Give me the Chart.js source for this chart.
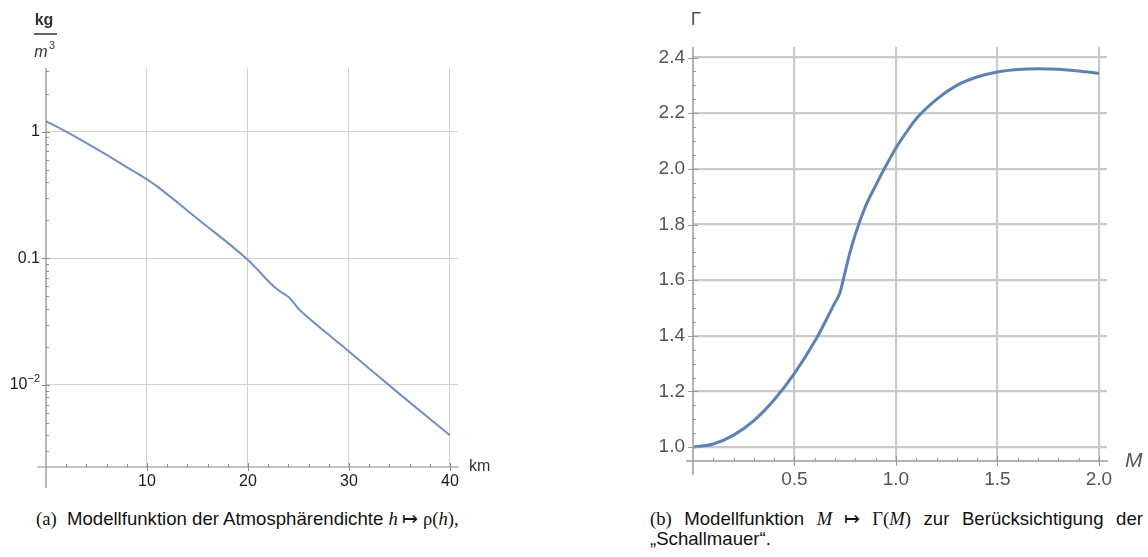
<!DOCTYPE html>
<html lang="de">
  <head>
    <meta charset="UTF-8" />
    <title>Atmosphärendichte und Schallmauer</title>
    <script src="https://cdn.jsdelivr.net/npm/chart.js@4"></script>
    <style>
      body {
        margin: 0;
        background: #fff;
        width: 1148px;
        height: 557px;
        position: relative;
        overflow: hidden;
        font-family: "Liberation Sans", Arial, sans-serif;
      }
      canvas {
        position: absolute;
        top: 0;
      }
      #densityChart { left: 0; }
      #gammaChart { left: 574px; }
      .caption {
        position: absolute;
        font-size: 18.6px;
        line-height: 20px;
        color: #111;
      }
      .serif { font-family: "Liberation Serif", "Times New Roman", serif; font-size: 18.6px; }
      .it { font-style: italic; }
      #capA { left: 36px; top: 509px; white-space: nowrap; }
      #capB { left: 650px; top: 509px; width: 493px; text-align: justify; text-align-last: left; }
    </style>
  </head>
  <body>
    <canvas id="densityChart" width="574" height="500"></canvas>
    <canvas id="gammaChart" width="574" height="500"></canvas>

    <div class="caption" id="capA">
      <span class="serif">(a)</span>&nbsp; Modellfunktion der Atmosphärendichte
      <span class="serif it">h</span><span class="serif"> ↦ ρ(</span><span class="serif it">h</span><span class="serif">),</span>
    </div>
    <div class="caption" id="capB">
      <span class="serif">(b)</span> Modellfunktion <span class="serif it">M</span><span class="serif"> ↦ Γ(</span><span class="serif it">M</span><span class="serif">)</span> zur Berücksichtigung der „Schallmauer“.
    </div>

    <script>
      // (a) air density over altitude
      const altitudeKm = [0, 2, 5, 8, 10, 11, 15, 20, 22.6, 23.3, 24.1, 25.0, 25.5, 30, 35, 40];
      const densityKgM3 = [1.21, 1.0, 0.73, 0.525, 0.42, 0.37, 0.205, 0.097, 0.0596, 0.054, 0.0488, 0.040, 0.0367, 0.0184, 0.0085, 0.0040];
      const altitudeTicks = [10, 20, 30, 40];
      const densityTicks = [1, 0.1, 0.01];
      const densityTickLabels = [["1"], ["0.1"], ["10", "−2"]];

      // (b) gamma over mach number, kink at the sonic transition
      const machNumber = [0, 0.1, 0.2, 0.3, 0.4, 0.5, 0.6, 0.7, 0.724, 0.74, 0.77, 0.8, 0.85, 0.9, 0.95, 1.0, 1.05, 1.1, 1.2, 1.3, 1.4, 1.5, 1.6, 1.7, 1.8, 1.9, 2.0];
      const gammaValues = [1.0, 1.011, 1.043, 1.095, 1.17, 1.265, 1.38, 1.52, 1.555, 1.6, 1.69, 1.765, 1.865, 1.94, 2.01, 2.075, 2.13, 2.18, 2.25, 2.3, 2.33, 2.348, 2.357, 2.36, 2.358, 2.352, 2.343];
      const machTicks = [0.5, 1.0, 1.5, 2.0];
      const gammaTicks = [1.0, 1.2, 1.4, 1.6, 1.8, 2.0, 2.2, 2.4];

      const toPoints = (xs, ys) => xs.map((x, i) => ({ x: x, y: ys[i] }));
      const fixedTicks = (values) => (scale) => {
        scale.ticks = values.map((v) => ({ value: v }));
      };

      // Mathematica-style axes: lines, major/minor ticks, labels and titles
      const axesPlugin = {
        id: "axes",
        afterDatasetsDraw(chart, args, o) {
          const ctx = chart.ctx;
          const xs = chart.scales.x;
          const ys = chart.scales.y;
          const ax = xs.left;
          const ay = ys.bottom;
          ctx.save();
          ctx.strokeStyle = o.axisColor;
          ctx.lineWidth = o.axisWidth;
          ctx.beginPath();
          ctx.moveTo(ax - o.xAxisOverhang, ay);
          ctx.lineTo(xs.right + 1, ay);
          ctx.moveTo(ax, ys.top);
          ctx.lineTo(ax, ay + o.yAxisOverhang);
          ctx.stroke();

          ctx.lineWidth = 1;
          ctx.beginPath();
          o.xMinor.forEach((v) => {
            const px = Math.round(xs.getPixelForValue(v)) + 0.5;
            ctx.moveTo(px, ay);
            ctx.lineTo(px, ay - o.minorLen);
          });
          o.xMajor.forEach((v) => {
            const px = Math.round(xs.getPixelForValue(v)) + 0.5;
            ctx.moveTo(px, ay + o.majorLen);
            ctx.lineTo(px, ay - o.majorLen);
          });
          o.yMinor.forEach((v) => {
            const py = Math.round(ys.getPixelForValue(v)) + 0.5;
            ctx.moveTo(ax, py);
            ctx.lineTo(ax + o.minorLen, py);
          });
          o.yMajor.forEach((v) => {
            const py = Math.round(ys.getPixelForValue(v)) + 0.5;
            ctx.moveTo(ax - o.majorLen, py);
            ctx.lineTo(ax + o.majorLen, py);
          });
          ctx.stroke();

          ctx.fillStyle = o.labelColor;
          ctx.font = o.labelFont;
          ctx.textAlign = "center";
          ctx.textBaseline = "middle";
          o.xMajor.forEach((v, i) => {
            ctx.fillText(o.xLabels[i], xs.getPixelForValue(v), ay + o.xLabelGap);
          });
          ctx.textAlign = "right";
          o.yMajor.forEach((v, i) => {
            const py = ys.getPixelForValue(v);
            const parts = o.yLabels[i];
            const rx = ax - o.yLabelGap;
            if (parts.length === 1) {
              ctx.fillText(parts[0], rx, py);
            } else {
              ctx.font = o.supFont;
              const supW = ctx.measureText(parts[1]).width;
              ctx.fillText(parts[1], rx, py - 6);
              ctx.font = o.labelFont;
              ctx.fillText(parts[0], rx - supW, py);
            }
          });
          if (o.drawTitles) o.drawTitles(ctx, xs, ys);
          ctx.restore();
        },
      };

      function minorRange(from, to, step, skip) {
        const out = [];
        for (let i = 0; from + i * step <= to + 1e-9; i++) {
          const v = +(from + i * step).toFixed(4);
          if (!skip.some((s) => Math.abs(s - v) < 1e-6)) out.push(v);
        }
        return out;
      }

      const logMinor = [];
      [0.001, 0.01, 0.1, 1].forEach((d) => {
        for (let k = 2; k <= 9; k++) {
          const v = d * k;
          if (v > 0.00225 && v < 3.18) logMinor.push(v);
        }
      });

      new Chart(document.getElementById("densityChart"), {
        type: "line",
        data: {
          datasets: [
            {
              data: toPoints(altitudeKm, densityKgM3),
              borderColor: "#6f90c6",
              borderWidth: 2,
              pointRadius: 0,
              cubicInterpolationMode: "monotone",
            },
          ],
        },
        options: {
          responsive: false,
          animation: false,
          devicePixelRatio: 1,
          layout: { padding: { left: 46, top: 68, right: 116, bottom: 33 } },
          plugins: {
            legend: { display: false },
            tooltip: { enabled: false },
            axes: {
              axisColor: "#8a8a8a",
              axisWidth: 1.2,
              xAxisOverhang: 9,
              yAxisOverhang: 21,
              minorLen: 3,
              majorLen: 4,
              xMajor: altitudeTicks,
              xMinor: minorRange(2, 40, 2, altitudeTicks),
              yMajor: densityTicks,
              yMinor: logMinor,
              xLabels: altitudeTicks.map(String),
              yLabels: densityTickLabels,
              labelColor: "#1a1a1a",
              labelFont: "16px 'Liberation Sans', Arial, sans-serif",
              supFont: "11px 'Liberation Sans', Arial, sans-serif",
              xLabelGap: 15,
              yLabelGap: 6,
              drawTitles(ctx, xs, ys) {
                ctx.fillStyle = "#333";
                ctx.textAlign = "center";
                ctx.textBaseline = "middle";
                ctx.font = "bold 16px 'Liberation Sans', Arial, sans-serif";
                ctx.fillText("kg", 44, 21);
                ctx.strokeStyle = "#555";
                ctx.lineWidth = 1.8;
                ctx.beginPath();
                ctx.moveTo(34, 34);
                ctx.lineTo(57, 34);
                ctx.stroke();
                ctx.font = "italic 16px 'Liberation Sans', Arial, sans-serif";
                ctx.fillText("m", 41, 53);
                ctx.font = "11px 'Liberation Sans', Arial, sans-serif";
                ctx.fillText("3", 52, 46);
                ctx.font = "16px 'Liberation Sans', Arial, sans-serif";
                ctx.textAlign = "left";
                ctx.fillText("km", xs.right + 11, ys.bottom);
              },
            },
          },
          scales: {
            x: {
              type: "linear",
              min: 0,
              max: 40.8,
              afterBuildTicks: fixedTicks(altitudeTicks),
              ticks: { display: false },
              grid: { color: "#d2d2d2", lineWidth: 1, drawTicks: false },
              border: { display: false },
            },
            y: {
              type: "logarithmic",
              min: 0.00225,
              max: 3.18,
              afterBuildTicks: fixedTicks(densityTicks),
              ticks: { display: false },
              grid: { color: "#d2d2d2", lineWidth: 1, drawTicks: false },
              border: { display: false },
            },
          },
        },
        plugins: [axesPlugin],
      });

      new Chart(document.getElementById("gammaChart"), {
        type: "line",
        data: {
          datasets: [
            {
              data: toPoints(machNumber, gammaValues),
              borderColor: "#5e81b5",
              borderWidth: 3,
              pointRadius: 0,
              cubicInterpolationMode: "monotone",
            },
          ],
        },
        options: {
          responsive: false,
          animation: false,
          devicePixelRatio: 1,
          layout: { padding: { left: 119, top: 47, right: 41, bottom: 39 } },
          plugins: {
            legend: { display: false },
            tooltip: { enabled: false },
            axes: {
              axisColor: "#9a9a9a",
              axisWidth: 1.5,
              xAxisOverhang: 7,
              yAxisOverhang: 14,
              minorLen: 3,
              majorLen: 5,
              xMajor: machTicks,
              xMinor: minorRange(0.1, 2.0, 0.1, machTicks),
              yMajor: gammaTicks,
              yMinor: minorRange(1.05, 2.4, 0.05, gammaTicks),
              xLabels: machTicks.map((v) => v.toFixed(1)),
              yLabels: gammaTicks.map((v) => [v.toFixed(1)]),
              labelColor: "#555",
              labelFont: "19px 'Liberation Sans', Arial, sans-serif",
              supFont: "13px 'Liberation Sans', Arial, sans-serif",
              xLabelGap: 19,
              yLabelGap: 8,
              drawTitles(ctx, xs, ys) {
                ctx.fillStyle = "#555";
                ctx.textBaseline = "middle";
                ctx.textAlign = "center";
                ctx.font = "19px 'Liberation Sans', Arial, sans-serif";
                ctx.fillText("Γ", xs.left + 3, ys.top - 27);
                ctx.textAlign = "left";
                ctx.font = "italic 21px 'Liberation Sans', Arial, sans-serif";
                ctx.fillText("M", xs.right + 18, ys.bottom);
              },
            },
          },
          scales: {
            x: {
              type: "linear",
              min: 0,
              max: 2.04,
              afterBuildTicks: fixedTicks(machTicks),
              ticks: { display: false },
              grid: { color: "#cacaca", lineWidth: 2.2, drawTicks: false },
              border: { display: false },
            },
            y: {
              type: "linear",
              min: 0.95,
              max: 2.438,
              afterBuildTicks: fixedTicks(gammaTicks),
              ticks: { display: false },
              grid: { color: "#cacaca", lineWidth: 2.2, drawTicks: false },
              border: { display: false },
            },
          },
        },
        plugins: [axesPlugin],
      });
    </script>
  </body>
</html>
